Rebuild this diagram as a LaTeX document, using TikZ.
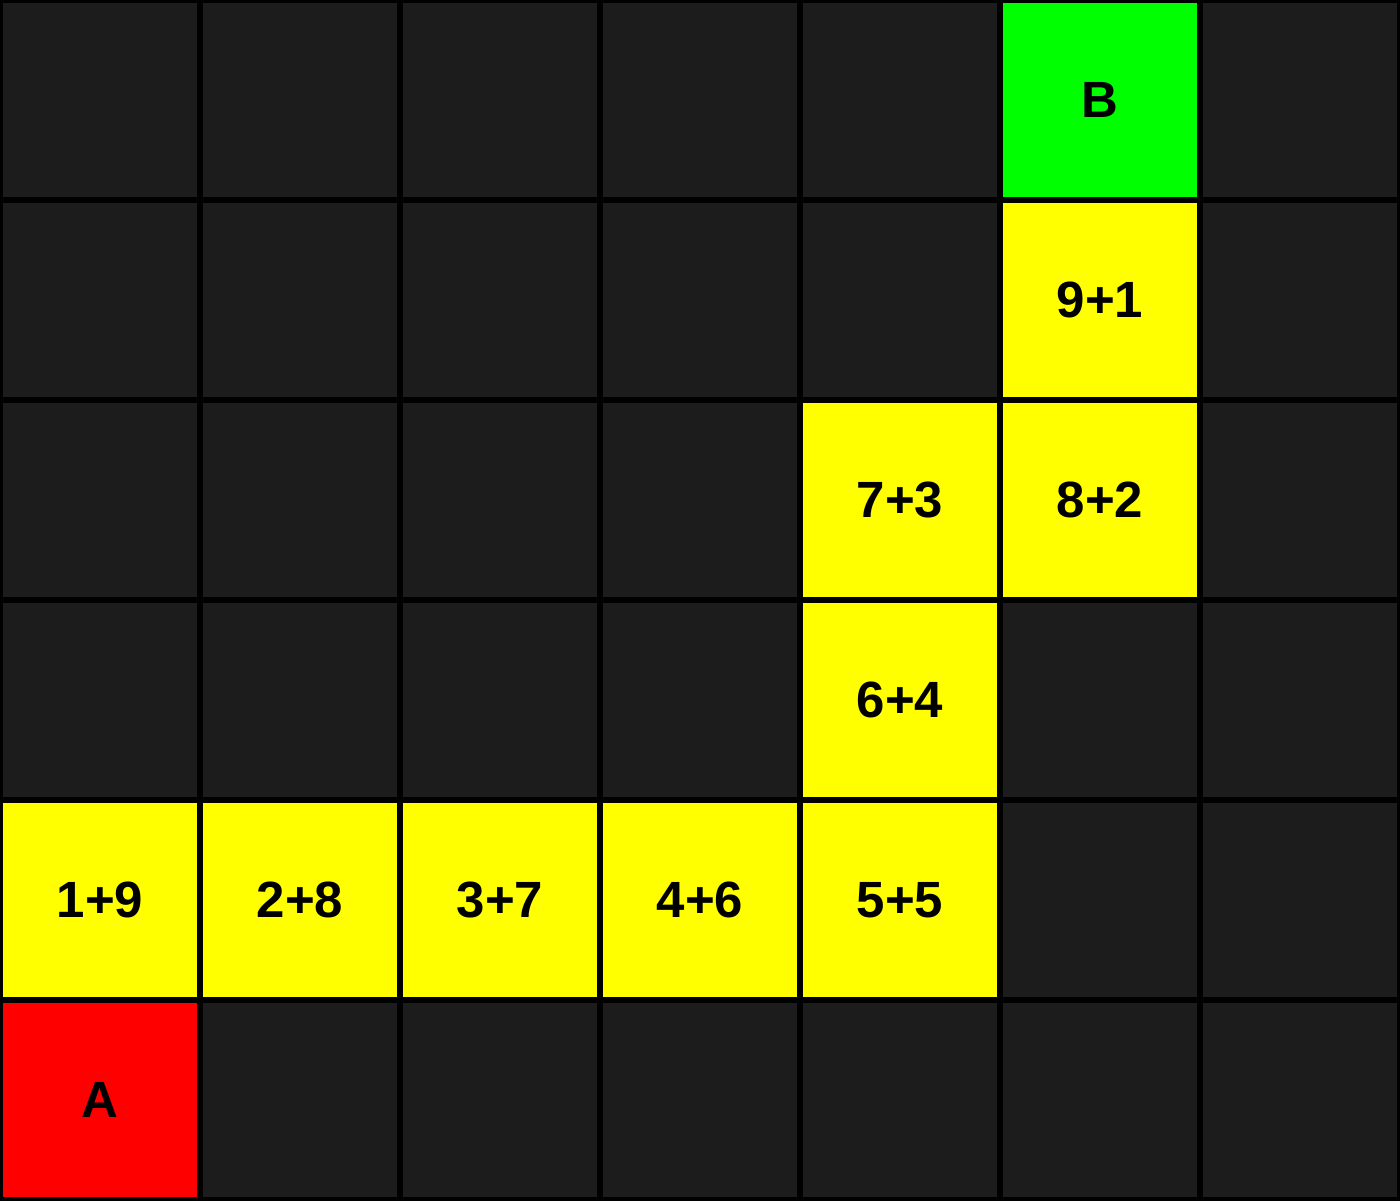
\documentclass[tikz,border=0pt]{standalone}
\usepackage{fontspec}
\setmainfont{Liberation Sans}
\usepackage{tikz}

\definecolor{darkcell}{HTML}{1C1C1C}
\definecolor{pathcell}{HTML}{FFFF00}
\definecolor{startcell}{HTML}{FF0000}
\definecolor{goalcell}{HTML}{00FF00}

\tikzset{
  cell/.style={minimum size=2cm, inner sep=0pt, font=\bfseries\fontsize{14.5}{17}\selectfont},
  sumcell/.style={cell, fill=pathcell},
  gridline/.style={line width=1.5pt, color=black}
}

\begin{document}
\begin{tikzpicture}
\useasboundingbox (0, 0) rectangle (14, 12);
\fill[darkcell] (0, 0) rectangle (14, 12);

\node[cell, fill=startcell] (A) at (1, 1) {A};
\node[cell, fill=goalcell] (B) at (11, 11) {B};

\node[sumcell] (s1) at (1, 3) {1+9};
\node[sumcell] (s2) at (3, 3) {2+8};
\node[sumcell] (s3) at (5, 3) {3+7};
\node[sumcell] (s4) at (7, 3) {4+6};
\node[sumcell] (s5) at (9, 3) {5+5};
\node[sumcell] (s6) at (9, 5) {6+4};
\node[sumcell] (s7) at (9, 7) {7+3};
\node[sumcell] (s8) at (11, 7) {8+2};
\node[sumcell] (s9) at (11, 9) {9+1};

\draw[gridline] (0, 0) grid[step=2] (14, 12);
\draw[gridline, line width=0.9pt] (0, 0) rectangle (14, 12);

\end{tikzpicture}
\end{document}
